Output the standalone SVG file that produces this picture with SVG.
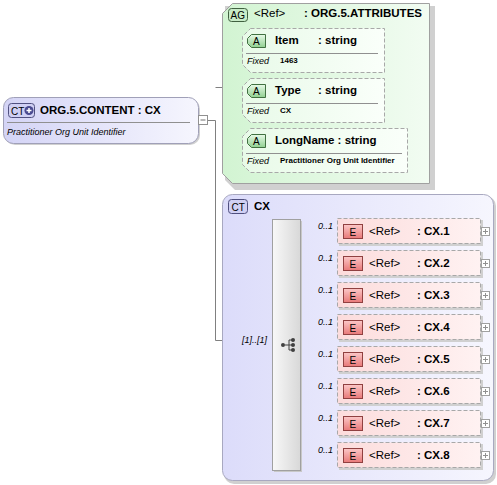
<svg xmlns="http://www.w3.org/2000/svg" width="497" height="485" viewBox="0 0 497 485">
<defs>
<linearGradient id="lav" x1="0" y1="0" x2="1" y2="0"><stop offset="0" stop-color="#d4d4f6"/><stop offset="1" stop-color="#f6f6fe"/></linearGradient>
<linearGradient id="lav2" x1="0" y1="0" x2="1" y2="0"><stop offset="0" stop-color="#dcdcfa"/><stop offset="1" stop-color="#f6f6fe"/></linearGradient>
<linearGradient id="grn" x1="0" y1="0" x2="1" y2="0"><stop offset="0" stop-color="#d2f4d2"/><stop offset="1" stop-color="#f2fcf2"/></linearGradient>
<linearGradient id="grn2" x1="0" y1="0" x2="1" y2="0"><stop offset="0" stop-color="#e8fae8"/><stop offset="1" stop-color="#fafffa"/></linearGradient>
<linearGradient id="pnk" x1="0" y1="0" x2="1" y2="0"><stop offset="0" stop-color="#fcdcdc"/><stop offset="1" stop-color="#fff2f2"/></linearGradient>
<linearGradient id="ebadge" x1="0" y1="0" x2="0" y2="1"><stop offset="0" stop-color="#fcc8c8"/><stop offset="1" stop-color="#e87878"/></linearGradient>
<linearGradient id="abadge" x1="0" y1="0" x2="0" y2="1"><stop offset="0" stop-color="#e8fae8"/><stop offset="1" stop-color="#90d090"/></linearGradient>
<linearGradient id="seq" x1="0" y1="0" x2="1" y2="0"><stop offset="0" stop-color="#f8f8f8"/><stop offset="1" stop-color="#d8d8d8"/></linearGradient>
</defs>
<style>
text{font-family:"Liberation Sans",Arial,sans-serif;fill:#000}
.t{font-size:11.5px;font-weight:bold}
.n{font-size:11.5px}
.i{font-size:9px;font-style:italic}
.fx{font-size:8px;font-weight:bold}
.conn{stroke:#808080;stroke-width:1;fill:none}
.dash{stroke:#a8a8a8;stroke-width:1;stroke-dasharray:4,2}
.shadow{fill:#d0d0d0}
.badge{font-size:10px}
</style>

<g id="connectors">
<path class="conn" d="M207.5,120.5H215.5V340.5H272"/>
<path class="conn" d="M215.5,87.5H232.5M232.5,49.5V150.5M232.5,49.5H242M232.5,100.5H242M232.5,150.5H242"/>
<path class="conn" d="M300,231.5H337M300,263.5H337M300,295.5H337M300,327.5H337M300,359.5H337M300,391.5H337M300,423.5H337M300,455.5H337"/>
</g>

<g id="org5content">
<rect x="5" y="99" width="195" height="46" rx="10" class="shadow"/>
<rect x="3.5" y="97.5" width="195" height="46" rx="10" fill="url(#lav)" stroke="#a0a0b8"/>
<rect x="8.5" y="103.5" width="26" height="14" rx="3" fill="#d0d0f4" stroke="#505080"/>
<text x="11" y="114.5" class="badge" fill="#202040">CT</text>
<circle cx="29" cy="110.5" r="4.5" fill="#4a4a90"/>
<path d="M26.5,110.5H31.5M29,108V113" stroke="#fff" stroke-width="1.5"/>
<text x="40" y="114" class="t">ORG.5.CONTENT : CX</text>
<line x1="7" y1="122.5" x2="190" y2="122.5" stroke="#909090"/>
<text x="7" y="135" class="i">Practitioner Org Unit Identifier</text>
<rect x="198.5" y="115.5" width="9" height="9" fill="#fff" stroke="#909090"/>
<line x1="200.5" y1="120" x2="205.5" y2="120" stroke="#707070"/>
</g>

<g id="attributes">
<path d="M225,6H435V190H235L225,180Z" class="shadow"/>
<path d="M232.5,3.5H429.5V183.5H232.5L222.5,173.5V13.5Z" fill="url(#grn)" stroke="#a0a0a0"/>
<rect x="228.5" y="8.5" width="19" height="13" rx="3" fill="#c8ecc8" stroke="#406040"/>
<text x="230.5" y="19" class="badge" fill="#204020">AG</text>
<text x="254" y="17" class="n">&lt;Ref&gt;</text>
<text x="304" y="17" class="t">: ORG.5.ATTRIBUTES</text>
</g>

<g id="attr-item">
<path d="M250.5,28.5H384.5V72.5H250.5L242.5,64.5V36.5Z" fill="url(#grn2)" class="dash"/>
<path d="M251.5,34.5H265.5V47.5H251.5L247.5,43.5V38.5Z" fill="url(#abadge)" stroke="#407040"/>
<text x="253" y="45" class="badge">A</text>
<text x="275" y="44" class="t">Item</text>
<text x="318" y="44" class="t">: string</text>
<line x1="246" y1="53.5" x2="378" y2="53.5" stroke="#909090"/>
<text x="247" y="64" class="i">Fixed</text>
<text x="280" y="63" class="fx">1463</text>
</g>

<g id="attr-type">
<path d="M250.5,78.5H384.5V122.5H250.5L242.5,114.5V86.5Z" fill="url(#grn2)" class="dash"/>
<path d="M251.5,84.5H265.5V97.5H251.5L247.5,93.5V88.5Z" fill="url(#abadge)" stroke="#407040"/>
<text x="253" y="95" class="badge">A</text>
<text x="275" y="94" class="t">Type</text>
<text x="318" y="94" class="t">: string</text>
<line x1="246" y1="103.5" x2="378" y2="103.5" stroke="#909090"/>
<text x="247" y="114" class="i">Fixed</text>
<text x="280" y="113" class="fx">CX</text>
</g>

<g id="attr-longname">
<path d="M250.5,128.5H407.5V172.5H250.5L242.5,164.5V136.5Z" fill="url(#grn2)" class="dash"/>
<path d="M251.5,134.5H265.5V147.5H251.5L247.5,143.5V138.5Z" fill="url(#abadge)" stroke="#407040"/>
<text x="253" y="145" class="badge">A</text>
<text x="275" y="144" class="t">LongName : string</text>
<line x1="246" y1="153.5" x2="402" y2="153.5" stroke="#909090"/>
<text x="247" y="164" class="i">Fixed</text>
<text x="280" y="163" class="fx">Practitioner Org Unit Identifier</text>
</g>

<g id="cx">
<rect x="224" y="196" width="272" height="288" rx="10" class="shadow"/>
<rect x="222.5" y="194.5" width="271" height="286" rx="10" fill="url(#lav2)" stroke="#a8a8c0"/>
<rect x="228.5" y="199.5" width="19" height="14" rx="3" fill="#d0d0f4" stroke="#505080"/>
<text x="231.5" y="210.5" class="badge" fill="#202040">CT</text>
<text x="254" y="210" class="t">CX</text>
</g>

<g id="sequence">
<rect x="274" y="221" width="28" height="251" fill="#c8c8c8"/>
<rect x="272.5" y="219.5" width="28" height="251" fill="url(#seq)" stroke="#a0a0a0"/>
<circle cx="283" cy="345" r="2" fill="#404040"/>
<path d="M285,345H289M289,340V350M289,340H292M289,345H292M289,350H292" stroke="#404040"/>
<circle cx="293" cy="340" r="2" fill="#404040"/>
<circle cx="293" cy="345" r="2" fill="#404040"/>
<circle cx="293" cy="350" r="2" fill="#404040"/>
<text x="242" y="343" class="i">[1]..[1]</text>
</g>

<g id="cx1" transform="translate(0,0)">
<rect x="339" y="220" width="144" height="26" class="shadow"/>
<rect x="337.5" y="218.5" width="143" height="25" fill="url(#pnk)" class="dash"/>
<rect x="343.5" y="224.5" width="19" height="14" fill="url(#ebadge)" stroke="#904040"/>
<text x="349.5" y="235.5" class="badge">E</text>
<text x="369" y="235" class="n">&lt;Ref&gt;</text>
<text x="417" y="235" class="t">: CX.1</text>
<text x="318" y="229" class="i">0..1</text>
<rect x="481.5" y="227.5" width="8" height="8" fill="#fff" stroke="#a0a0a0"/>
<path d="M483,231.5H488M485.5,229V234" stroke="#909090"/>
</g>
<g id="cx2" transform="translate(0,32)">
<rect x="339" y="220" width="144" height="26" class="shadow"/>
<rect x="337.5" y="218.5" width="143" height="25" fill="url(#pnk)" class="dash"/>
<rect x="343.5" y="224.5" width="19" height="14" fill="url(#ebadge)" stroke="#904040"/>
<text x="349.5" y="235.5" class="badge">E</text>
<text x="369" y="235" class="n">&lt;Ref&gt;</text>
<text x="417" y="235" class="t">: CX.2</text>
<text x="318" y="229" class="i">0..1</text>
<rect x="481.5" y="227.5" width="8" height="8" fill="#fff" stroke="#a0a0a0"/>
<path d="M483,231.5H488M485.5,229V234" stroke="#909090"/>
</g>
<g id="cx3" transform="translate(0,64)">
<rect x="339" y="220" width="144" height="26" class="shadow"/>
<rect x="337.5" y="218.5" width="143" height="25" fill="url(#pnk)" class="dash"/>
<rect x="343.5" y="224.5" width="19" height="14" fill="url(#ebadge)" stroke="#904040"/>
<text x="349.5" y="235.5" class="badge">E</text>
<text x="369" y="235" class="n">&lt;Ref&gt;</text>
<text x="417" y="235" class="t">: CX.3</text>
<text x="318" y="229" class="i">0..1</text>
<rect x="481.5" y="227.5" width="8" height="8" fill="#fff" stroke="#a0a0a0"/>
<path d="M483,231.5H488M485.5,229V234" stroke="#909090"/>
</g>
<g id="cx4" transform="translate(0,96)">
<rect x="339" y="220" width="144" height="26" class="shadow"/>
<rect x="337.5" y="218.5" width="143" height="25" fill="url(#pnk)" class="dash"/>
<rect x="343.5" y="224.5" width="19" height="14" fill="url(#ebadge)" stroke="#904040"/>
<text x="349.5" y="235.5" class="badge">E</text>
<text x="369" y="235" class="n">&lt;Ref&gt;</text>
<text x="417" y="235" class="t">: CX.4</text>
<text x="318" y="229" class="i">0..1</text>
<rect x="481.5" y="227.5" width="8" height="8" fill="#fff" stroke="#a0a0a0"/>
<path d="M483,231.5H488M485.5,229V234" stroke="#909090"/>
</g>
<g id="cx5" transform="translate(0,128)">
<rect x="339" y="220" width="144" height="26" class="shadow"/>
<rect x="337.5" y="218.5" width="143" height="25" fill="url(#pnk)" class="dash"/>
<rect x="343.5" y="224.5" width="19" height="14" fill="url(#ebadge)" stroke="#904040"/>
<text x="349.5" y="235.5" class="badge">E</text>
<text x="369" y="235" class="n">&lt;Ref&gt;</text>
<text x="417" y="235" class="t">: CX.5</text>
<text x="318" y="229" class="i">0..1</text>
<rect x="481.5" y="227.5" width="8" height="8" fill="#fff" stroke="#a0a0a0"/>
<path d="M483,231.5H488M485.5,229V234" stroke="#909090"/>
</g>
<g id="cx6" transform="translate(0,160)">
<rect x="339" y="220" width="144" height="26" class="shadow"/>
<rect x="337.5" y="218.5" width="143" height="25" fill="url(#pnk)" class="dash"/>
<rect x="343.5" y="224.5" width="19" height="14" fill="url(#ebadge)" stroke="#904040"/>
<text x="349.5" y="235.5" class="badge">E</text>
<text x="369" y="235" class="n">&lt;Ref&gt;</text>
<text x="417" y="235" class="t">: CX.6</text>
<text x="318" y="229" class="i">0..1</text>
<rect x="481.5" y="227.5" width="8" height="8" fill="#fff" stroke="#a0a0a0"/>
<path d="M483,231.5H488M485.5,229V234" stroke="#909090"/>
</g>
<g id="cx7" transform="translate(0,192)">
<rect x="339" y="220" width="144" height="26" class="shadow"/>
<rect x="337.5" y="218.5" width="143" height="25" fill="url(#pnk)" class="dash"/>
<rect x="343.5" y="224.5" width="19" height="14" fill="url(#ebadge)" stroke="#904040"/>
<text x="349.5" y="235.5" class="badge">E</text>
<text x="369" y="235" class="n">&lt;Ref&gt;</text>
<text x="417" y="235" class="t">: CX.7</text>
<text x="318" y="229" class="i">0..1</text>
<rect x="481.5" y="227.5" width="8" height="8" fill="#fff" stroke="#a0a0a0"/>
<path d="M483,231.5H488M485.5,229V234" stroke="#909090"/>
</g>
<g id="cx8" transform="translate(0,224)">
<rect x="339" y="220" width="144" height="26" class="shadow"/>
<rect x="337.5" y="218.5" width="143" height="25" fill="url(#pnk)" class="dash"/>
<rect x="343.5" y="224.5" width="19" height="14" fill="url(#ebadge)" stroke="#904040"/>
<text x="349.5" y="235.5" class="badge">E</text>
<text x="369" y="235" class="n">&lt;Ref&gt;</text>
<text x="417" y="235" class="t">: CX.8</text>
<text x="318" y="229" class="i">0..1</text>
<rect x="481.5" y="227.5" width="8" height="8" fill="#fff" stroke="#a0a0a0"/>
<path d="M483,231.5H488M485.5,229V234" stroke="#909090"/>
</g>
</svg>
